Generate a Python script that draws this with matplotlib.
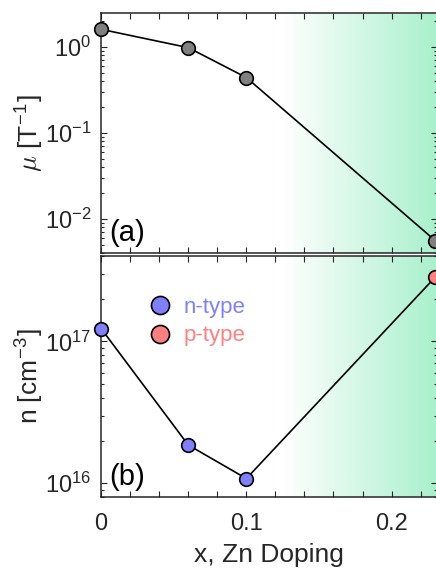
import numpy as np
import matplotlib
matplotlib.use("Agg")
import matplotlib.pyplot as plt
from matplotlib.colors import LinearSegmentedColormap
from matplotlib.lines import Line2D
from matplotlib.ticker import MultipleLocator, NullFormatter, FuncFormatter

plt.rcParams['font.family'] = ['Liberation Sans', 'DejaVu Sans']
plt.rcParams['mathtext.fontset'] = 'cm'

# datos
x_dop = [0, 0.06, 0.1, 0.23]
mu = [1.6, 0.98, 0.44, 0.0056]
n_car = [1.23e17, 1.86e16, 1.08e16, 2.83e17]
tipo = ['n', 'n', 'n', 'p']

col_n = '#8080ff'
col_p = '#ff8080'
col_eje = '#262626'

fig = plt.figure(figsize=(4.36, 5.70), dpi=100)
ax1 = fig.add_axes([0.232, 0.556, 0.771, 0.421])
ax2 = fig.add_axes([0.232, 0.128, 0.771, 0.423])

# degradado verde (region p-type)
verde = LinearSegmentedColormap.from_list('verde', ['#ffffff', '#a8f0cc'])
grad = np.linspace(0, 1, 256).reshape(1, -1)

for ax, ylim in ((ax1, (0.004, 2.47)), (ax2, (8.0e15, 4.0e17))):
    ax.set_yscale('log')
    ax.imshow(grad, cmap=verde, aspect='auto', extent=(0.125, 0.2315, ylim[0], ylim[1]),
              zorder=0, interpolation='bilinear')
    ax.set_xlim(0, 0.2315)
    ax.set_ylim(*ylim)
    ax.xaxis.set_major_locator(MultipleLocator(0.02))
    ax.tick_params(which='both', direction='in', top=True, right=True,
                   color=col_eje, labelcolor=col_eje, labelsize=17, width=0.8)
    ax.tick_params(which='major', length=4)
    ax.tick_params(which='minor', length=2.5)
    ax.tick_params(axis='y', pad=7)
    for s in ax.spines.values():
        s.set_color(col_eje)
        s.set_linewidth(1.1)

# (a) movilidad
ax1.plot(x_dop, mu, '-', color='k', lw=1.2, zorder=2, clip_on=False)
ax1.plot(x_dop, mu, 'o', ms=9.8, mfc='#808080', mec='k', mew=1.2, zorder=3, clip_on=False)
ax1.xaxis.set_major_formatter(NullFormatter())
ax1.set_ylabel(r'$\mu$ [T$^{\mathdefault{-1}}$]', fontsize=19, color=col_eje, labelpad=0)
ax1.text(0.025, 0.025, '(a)', transform=ax1.transAxes, fontsize=21, color='k', va='bottom')

# (b) portadores
ax2.plot(x_dop, n_car, '-', color='k', lw=1.2, zorder=2, clip_on=False)
for xi, ni, t in zip(x_dop, n_car, tipo):
    ax2.plot(xi, ni, 'o', ms=9.8, mfc=col_n if t == 'n' else col_p, mec='k', mew=1.2,
             zorder=3, clip_on=False)
ax2.xaxis.set_major_formatter(
    FuncFormatter(lambda v, p: ('0' if abs(v) < 1e-9 else f'{v:.1f}') if abs(v * 10 - round(v * 10)) < 1e-6 else ''))
ax2.set_xlabel('x, Zn Doping', fontsize=19, color=col_eje, labelpad=6)
ax2.set_ylabel(r'n [cm$^{\mathdefault{-3}}$]', fontsize=19, color=col_eje, labelpad=0)
ax2.tick_params(axis='x', pad=11.5)
ax2.text(0.025, 0.025, '(b)', transform=ax2.transAxes, fontsize=21, color='k', va='bottom')

handles = [Line2D([], [], ls='', marker='o', ms=13, mfc=col_n, mec='k', mew=1.2),
           Line2D([], [], ls='', marker='o', ms=13, mfc=col_p, mec='k', mew=1.2)]
ax2.legend(handles, ['n-type', 'p-type'], loc='upper left', bbox_to_anchor=(0.083, 0.868),
           frameon=False, fontsize=16, labelcolor=[col_n, col_p], handletextpad=0.05,
           labelspacing=0.35, borderaxespad=0)

fig.savefig('out.png', dpi=100)
